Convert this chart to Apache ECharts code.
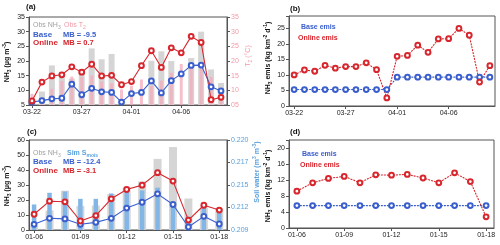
<!DOCTYPE html>
<html><head><meta charset="utf-8">
<script src="https://cdn.jsdelivr.net/npm/echarts@6/dist/echarts.min.js"></script>
<style>html,body{margin:0;padding:0;background:#fff}#c{width:500px;height:245px}</style>
</head><body><div id="c"></div>
<script>
// ---------- data ----------
const datesAB = ['03-22','03-23','03-24','03-25','03-26','03-27','03-28','03-29','03-30','03-31',
                 '04-01','04-02','04-03','04-04','04-05','04-06','04-07','04-08','04-09','04-10'];
const ticksAB = [0, 5, 10, 15];
const obsNH3_a = [null, 9.6, 18.5, 16.3, 14.0, 17.2, 24.3, 20.6, 22.4, null, null, null, 20.1, 23.3, 20.0, null, 21.0, 30.0, 17.1, 12.5];
const obsT2_a  = [8.8, 7.0, 10.5, 13.2, 14.7, 14.5, 15.0, 13.0, 12.4, 10.3, 11.6, 13.7, 11.5, 13.3, 16.0, 19.0, 18.0, 19.0, 14.6, 9.5];
const base_a   = [6.0, 6.5, 7.1, 7.3, 12.1, 8.5, 10.7, 9.5, 9.3, 6.0, 8.9, 9.3, 13.2, 9.1, 13.3, 15.6, 18.5, 18.6, 11.2, 9.8];
const online_a = [6.4, 12.8, 14.9, 15.3, 18.0, 16.2, 18.9, 14.9, 15.1, 11.9, 13.0, 18.4, 23.5, 17.8, 24.5, 22.8, 28.4, 26.3, 6.8, 7.6];
const baseEmis_b   = [5.3, 5.3, 5.3, 5.3, 5.3, 5.3, 5.3, 5.3, 5.3, 5.3, 9.3, 9.3, 9.3, 9.3, 9.3, 9.3, 9.3, 9.3, 9.3, 9.3];
const onlineEmis_b = [10.0, 11.6, 11.2, 13.1, 12.2, 12.7, 12.7, 13.9, 11.7, 2.6, 16.0, 16.3, 19.6, 17.3, 21.6, 21.7, 25.0, 22.8, 7.7, 13.0];

const datesCD = ['01-06','01-07','01-08','01-09','01-10','01-11','01-12','01-13','01-14','01-15','01-16','01-17','01-18'];
const ticksCD = [0, 3, 6, 9, 12];
const obsNH3_c = [2.8, 13.0, 26.2, 16.1, 16.3, 24.0, 28.4, 32.4, 47.4, 55.3, 21.0, 15.0, 14.5];
const smois_c  = [0.21212, 0.21355, 0.21371, 0.21281, 0.21281, 0.21347, 0.21377, 0.21384, 0.21417, 0.21193, 0.21065, 0.21193, 0.21166];
const base_c   = [3.8, 7.8, 7.4, 3.8, 5.1, 7.8, 14.6, 18.5, 24.1, 17.0, 2.0, 9.1, 4.0];
const online_c = [10.5, 19.2, 18.8, 6.0, 9.6, 20.8, 27.0, 29.9, 38.2, 32.6, 6.6, 16.5, 13.3];
const smoisTicks = [0.209, 0.21175, 0.2145, 0.21725, 0.220];
const smoisTickLabels = ['0.209', '0.212', '0.215', '0.217', '0.220'];
const baseEmis_d   = [5.6, 5.6, 5.6, 5.6, 5.6, 5.6, 5.6, 5.6, 5.6, 5.6, 5.6, 5.6, 5.6];
const onlineEmis_d = [9.2, 11.3, 12.4, 12.9, 11.3, 13.3, 13.2, 13.4, 12.5, 11.3, 13.8, 11.6, 2.8];

// ---------- styles ----------
const BLUE = '#3a5fcd', RED = '#d7262d', GRAY_BAR = '#d5d5d5', PINK = '#f29aa8', PINK_BAR = 'rgba(243,170,185,0.75)',
      LBLUE = '#5aa0dc', LBLUE_BAR = '#82b6e6', AX = '#555', TXT = '#222';
const FONT = 'Liberation Sans, Arial, sans-serif';
const SYM = 4.8;

const pairs = arr => arr.map((v, i) => [i, v]);

function xMain(g, min, max, ticks, labels) {
  return { type: 'value', gridIndex: g, min, max,
    splitLine: { show: false },
    axisLine: { show: true, onZero: false, lineStyle: { color: AX, width: 1 } },
    axisTick: { show: true, customValues: ticks, length: 3, lineStyle: { color: AX } },
    axisLabel: { customValues: ticks, formatter: v => labels[Math.round(v)], fontSize: 7, color: TXT, margin: 4, fontFamily: FONT } };
}
function xHidden(g, min, max) {
  return { type: 'value', gridIndex: g, min, max, show: false, splitLine: { show: false } };
}
function yAx(g, min, max, interval, opts) {
  opts = opts || {};
  return { type: 'value', gridIndex: g, min, max, interval,
    position: opts.position || 'left',
    splitLine: { show: false },
    axisLine: { show: true, onZero: false, lineStyle: { color: AX, width: 1 } },
    axisTick: { show: true, length: 3, lineStyle: { color: AX } },
    axisLabel: { fontSize: 7, color: opts.color || TXT, margin: 4, fontFamily: FONT, formatter: opts.formatter } };
}
function line(xi, yi, data, color, dashed) {
  return { type: 'line', xAxisIndex: xi, yAxisIndex: yi, data: pairs(data), symbol: 'emptyCircle', symbolSize: SYM,
    itemStyle: { color, borderWidth: 1 }, lineStyle: { color, width: 1.1, type: dashed ? [2, 1] : 'solid' } };
}

const option = {
  animation: false,
  textStyle: { fontFamily: FONT },
  grid: [
    { left: 29, top: 17, width: 198, height: 88, show: true, borderColor: AX, borderWidth: 1 },
    { left: 289, top: 16, width: 206, height: 90, show: true, borderColor: AX, borderWidth: 1 },
    { left: 29, top: 140, width: 198, height: 90, show: true, borderColor: AX, borderWidth: 1 },
    { left: 289, top: 140, width: 205, height: 88, show: true, borderColor: AX, borderWidth: 1 }
  ],
  xAxis: [
    xMain(0, -0.3, 19.6, ticksAB, datesAB),   // 0
    xHidden(0, -0.3, 19.6),                   // 1 gray bars
    xHidden(0, -0.3, 19.6),                   // 2 pink bars
    xMain(1, -0.5, 19.5, ticksAB, datesAB),   // 3
    xMain(2, -0.33, 12.5, ticksCD, datesCD),  // 4
    xHidden(2, -0.33, 12.5),                  // 5 gray bars
    xHidden(2, -0.33, 12.5),                  // 6 blue bars
    xMain(3, -0.5, 12.5, ticksCD, datesCD)    // 7
  ],
  yAxis: [
    yAx(0, 5, 35, 5),
    yAx(0, 5, 35, 5, { position: 'right', color: PINK, formatter: v => (v < 10 ? '0' + v : '' + v) }),
    yAx(1, 0, 29, 5, { formatter: v => (v % 5 === 0 ? '' + v : '') }),
    yAx(2, 0, 60, 10),
    { type: 'value', gridIndex: 2, min: 0.209, max: 0.220, position: 'right',
      splitLine: { show: false },
      axisLine: { show: true, onZero: false, lineStyle: { color: AX, width: 1 } },
      axisTick: { show: true, customValues: smoisTicks, length: 3, lineStyle: { color: AX } },
      axisLabel: { customValues: smoisTicks, fontSize: 7, color: LBLUE, margin: 4, fontFamily: FONT,
        formatter: v => { let k = 0, d = 1; smoisTicks.forEach((t, i) => { if (Math.abs(t - v) < d) { d = Math.abs(t - v); k = i; } }); return smoisTickLabels[k]; } } },
    yAx(3, 0, 22, 4, { formatter: v => (v % 4 === 0 ? '' + v : '') })
  ],
  series: [
    // (a)
    { type: 'bar', xAxisIndex: 1, yAxisIndex: 0, data: pairs(obsNH3_a), barWidth: 6, itemStyle: { color: GRAY_BAR }, clip: true },
    { type: 'bar', xAxisIndex: 2, yAxisIndex: 1, data: pairs(obsT2_a), barWidth: 3, itemStyle: { color: PINK_BAR }, clip: true },
    line(0, 0, base_a, BLUE, false),
    line(0, 0, online_a, RED, false),
    // (b)
    line(3, 2, baseEmis_b, BLUE, true),
    line(3, 2, onlineEmis_b, RED, true),
    // (c)
    { type: 'bar', xAxisIndex: 5, yAxisIndex: 3, data: pairs(obsNH3_c), barWidth: 8, itemStyle: { color: GRAY_BAR }, clip: true },
    { type: 'bar', xAxisIndex: 6, yAxisIndex: 4, data: pairs(smois_c), barWidth: 4.5, itemStyle: { color: LBLUE_BAR }, clip: true },
    line(4, 3, base_c, BLUE, false),
    line(4, 3, online_c, RED, false),
    // (d)
    line(7, 5, baseEmis_d, BLUE, true),
    line(7, 5, onlineEmis_d, RED, true)
  ]
};

// ---------- texts (labels, legends, axis titles) ----------
const RICH = {
  sub: { fontSize: 5, verticalAlign: 'bottom', lineHeight: 10 },
  sup: { fontSize: 5, verticalAlign: 'top', lineHeight: 10 }
};
function txt(x, y, text, fill, size, bold, extra) {
  const rich = {};
  Object.keys(RICH).forEach(k => rich[k] = Object.assign({}, RICH[k], { fill: fill, fontWeight: bold ? 'bold' : 'normal', fontFamily: FONT }));
  return Object.assign({ type: 'text', x, y, z: 100,
    style: { text, fill, fontSize: size, fontWeight: bold ? 'bold' : 'normal', fontFamily: FONT,
             rich, verticalAlign: 'middle', align: 'left', lineHeight: 10 } }, extra || {});
}
function vtxt(x, y, text, fill, size, bold) {
  const t = txt(x, y, text, fill, size, bold, { rotation: Math.PI / 2 });
  t.style.align = 'center';
  return t;
}
option.graphic = [
  txt(26, 7, '(a)', '#111', 8, true),
  txt(290, 9, '(b)', '#111', 8, true),
  txt(27, 132, '(c)', '#111', 8, true),
  txt(290, 132, '(d)', '#111', 8, true),
  // legends (a)
  txt(33, 25, 'Obs NH{sub|3}', '#a0a0a0', 7, false),
  txt(64, 25, 'Obs T{sub|2}', PINK, 7, false),
  txt(33, 34.5, 'Base', BLUE, 8, true),
  txt(63, 34.5, 'MB = -9.5', BLUE, 7.5, true),
  txt(33, 43, 'Online', RED, 8, true),
  txt(63, 43, 'MB = 0.7', RED, 7.5, true),
  // legends (b)
  txt(301, 27, 'Base emis', BLUE, 7, true),
  txt(298, 38, 'Online emis', RED, 7, true),
  // legends (c)
  txt(33, 153, 'Obs NH{sub|3}', '#a0a0a0', 7, false),
  txt(67, 153, 'Sim S{sub|mois}', LBLUE, 7, true),
  txt(33, 162, 'Base', BLUE, 8, true),
  txt(63, 162, 'MB = -12.4', BLUE, 7.5, true),
  txt(33, 171, 'Online', RED, 8, true),
  txt(63, 171, 'MB = -3.1', RED, 7.5, true),
  // legends (d)
  txt(302, 154, 'Base emis', BLUE, 7, true),
  txt(300, 165, 'Online emis', RED, 7, true),
  // axis titles
  vtxt(7, 62, 'NH{sub|3} (μg m{sup|-3})', '#111', 7, true),
  vtxt(248, 56, 'T{sub|2} (°C)', PINK, 7, false),
  vtxt(268, 58, 'NH{sub|3} emis (kg km{sup|-2} d{sup|-1})', '#111', 7, true),
  vtxt(7, 186, 'NH{sub|3} (μg m{sup|-3})', '#111', 7, true),
  vtxt(257, 172, 'Soil water (m{sup|3} m{sup|-3})', LBLUE, 7, true),
  vtxt(268, 186, 'NH{sub|3} emis (kg km{sup|-2} d{sup|-1})', '#111', 7, true)
];

const chart = echarts.init(document.getElementById('c'), null, { renderer: 'canvas' });
chart.setOption(option);
</script>
</body></html>
